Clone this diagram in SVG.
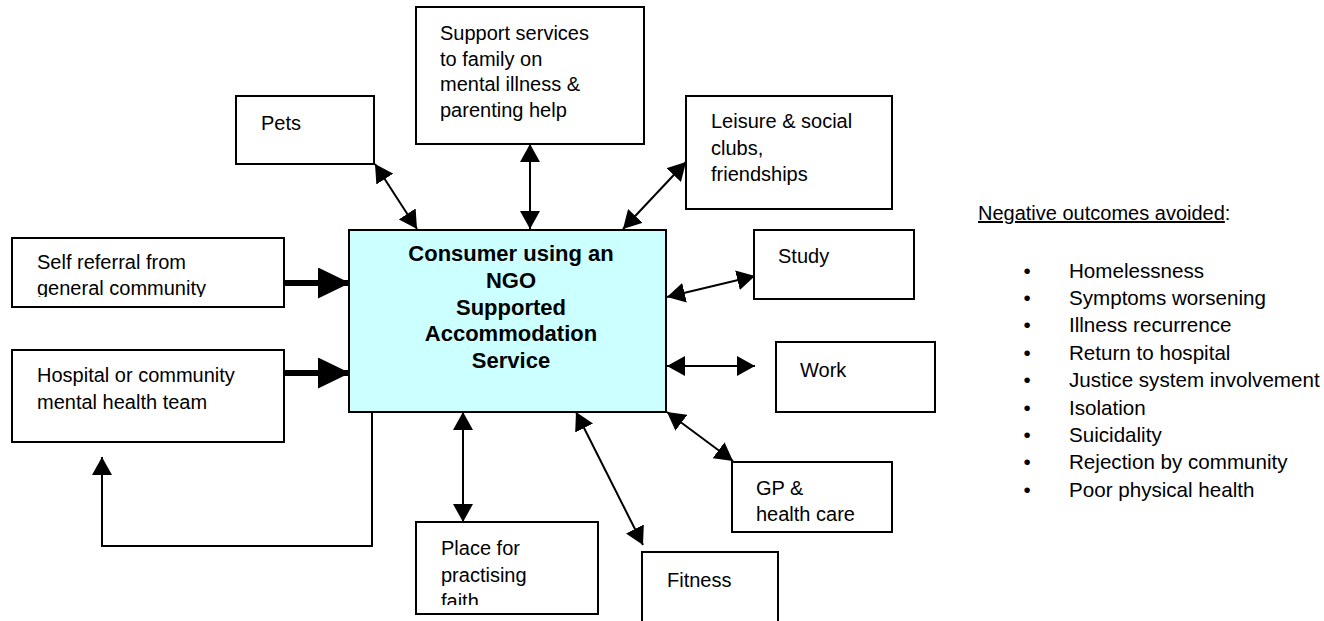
<svg xmlns="http://www.w3.org/2000/svg" width="1324" height="621" viewBox="0 0 1324 621">
<style>
  .box { fill: #ffffff; stroke: #000000; stroke-width: 2; }
  .center { fill: #ccffff; stroke: #000000; stroke-width: 2; }
  .t { font-family: "Liberation Sans", Arial, sans-serif; font-size: 20px; fill: #000000; }
  .l { font-family: "Liberation Sans", Arial, sans-serif; font-size: 20.6px; fill: #000000; }
  .b { font-family: "Liberation Sans", Arial, sans-serif; font-size: 22px; font-weight: bold; fill: #000000; text-anchor: middle; }
  .c { fill: none; stroke: #000000; stroke-width: 2; }
  .thick { fill: none; stroke: #000000; stroke-width: 6; }
</style>
<defs>
  <marker id="arr" viewBox="0 0 18 20" refX="18" refY="10" markerWidth="18" markerHeight="20" markerUnits="userSpaceOnUse" orient="auto-start-reverse">
    <path d="M0,0 L18,10 L0,20 z" fill="#000000"/>
  </marker>
  <marker id="big" viewBox="0 0 32 31" refX="32" refY="15.5" markerWidth="32" markerHeight="31" markerUnits="userSpaceOnUse" orient="auto">
    <path d="M0,0 L32,15.5 L0,31 z" fill="#000000"/>
  </marker>
  <clipPath id="clipSelf"><rect x="12" y="238" width="272" height="59"/></clipPath>
  <clipPath id="clipPlace"><rect x="416" y="522" width="182" height="83"/></clipPath>
</defs>

<g id="connectors">
  <line class="c" x1="375" y1="164" x2="417" y2="229" marker-start="url(#arr)" marker-end="url(#arr)"/>
  <line class="c" x1="530" y1="144" x2="530" y2="229" marker-start="url(#arr)" marker-end="url(#arr)"/>
  <line class="c" x1="686" y1="162" x2="623" y2="229" marker-start="url(#arr)" marker-end="url(#arr)"/>
  <line class="c" x1="667" y1="297" x2="755" y2="276" marker-start="url(#arr)" marker-end="url(#arr)"/>
  <line class="c" x1="667" y1="366" x2="755" y2="366" marker-start="url(#arr)" marker-end="url(#arr)"/>
  <line class="c" x1="667" y1="412" x2="733" y2="461" marker-start="url(#arr)" marker-end="url(#arr)"/>
  <line class="c" x1="576" y1="412" x2="643" y2="545" marker-start="url(#arr)" marker-end="url(#arr)"/>
  <line class="c" x1="463" y1="412" x2="463" y2="522" marker-start="url(#arr)" marker-end="url(#arr)"/>
  <line class="thick" x1="283" y1="283" x2="350" y2="283" marker-end="url(#big)"/>
  <line class="thick" x1="283" y1="373" x2="350" y2="373" marker-end="url(#big)"/>
  <polyline class="c" points="372,410 372,546 102,546 102,457" marker-end="url(#arr)"/>
</g>

<g id="center">
  <rect class="center" x="349" y="230" width="317" height="182"/>
  <text class="b" x="511" y="261">Consumer using an</text>
  <text class="b" x="511" y="288">NGO</text>
  <text class="b" x="511" y="315">Supported</text>
  <text class="b" x="511" y="341">Accommodation</text>
  <text class="b" x="511" y="368">Service</text>
</g>

<g id="pets">
  <rect class="box" x="236" y="96" width="138" height="68"/>
  <text class="t" x="261" y="130">Pets</text>
</g>

<g id="support">
  <rect class="box" x="416" y="7" width="228" height="137"/>
  <text class="t" x="440" y="40">Support services</text>
  <text class="t" x="440" y="65.6">to family on</text>
  <text class="t" x="440" y="91.2">mental illness &amp;</text>
  <text class="t" x="440" y="116.8">parenting help</text>
</g>

<g id="leisure">
  <rect class="box" x="686" y="96" width="206" height="113"/>
  <text class="t" x="711" y="128">Leisure &amp; social</text>
  <text class="t" x="711" y="154.5">clubs,</text>
  <text class="t" x="711" y="181">friendships</text>
</g>

<g id="self">
  <rect class="box" x="12" y="238" width="272" height="69"/>
  <g clip-path="url(#clipSelf)">
    <text class="t" x="37" y="269">Self referral from</text>
    <text class="t" x="37" y="295">general community</text>
  </g>
</g>

<g id="hospital">
  <rect class="box" x="12" y="350" width="272" height="92"/>
  <text class="t" x="37" y="382">Hospital or community</text>
  <text class="t" x="37" y="409">mental health team</text>
</g>

<g id="study">
  <rect class="box" x="754" y="230" width="160" height="69"/>
  <text class="t" x="778" y="263">Study</text>
</g>

<g id="work">
  <rect class="box" x="776" y="342" width="159" height="70"/>
  <text class="t" x="800" y="377">Work</text>
</g>

<g id="gp">
  <rect class="box" x="732" y="462" width="160" height="70"/>
  <text class="t" x="756" y="495">GP &amp;</text>
  <text class="t" x="756" y="521">health care</text>
</g>

<g id="place">
  <rect class="box" x="416" y="522" width="182" height="92"/>
  <g clip-path="url(#clipPlace)">
    <text class="t" x="441" y="555">Place for</text>
    <text class="t" x="441" y="582">practising</text>
    <text class="t" x="441" y="608">faith</text>
  </g>
</g>

<g id="fitness">
  <rect class="box" x="642" y="552" width="136" height="80"/>
  <text class="t" x="667" y="587">Fitness</text>
</g>

<g id="outcomes">
  <text class="t" x="978" y="220"><tspan text-decoration="underline">Negative outcomes avoided</tspan>:</text>
  <g class="l" text-anchor="middle">
    <text x="1027" y="277.5">•</text>
    <text x="1027" y="304.9">•</text>
    <text x="1027" y="332.3">•</text>
    <text x="1027" y="359.7">•</text>
    <text x="1027" y="387.1">•</text>
    <text x="1027" y="414.5">•</text>
    <text x="1027" y="441.9">•</text>
    <text x="1027" y="469.3">•</text>
    <text x="1027" y="496.7">•</text>
  </g>
  <text class="l" x="1069" y="277.5">Homelessness</text>
  <text class="l" x="1069" y="304.9">Symptoms worsening</text>
  <text class="l" x="1069" y="332.3">Illness recurrence</text>
  <text class="l" x="1069" y="359.7">Return to hospital</text>
  <text class="l" x="1069" y="387.1">Justice system involvement</text>
  <text class="l" x="1069" y="414.5">Isolation</text>
  <text class="l" x="1069" y="441.9">Suicidality</text>
  <text class="l" x="1069" y="469.3">Rejection by community</text>
  <text class="l" x="1069" y="496.7">Poor physical health</text>
</g>
</svg>
